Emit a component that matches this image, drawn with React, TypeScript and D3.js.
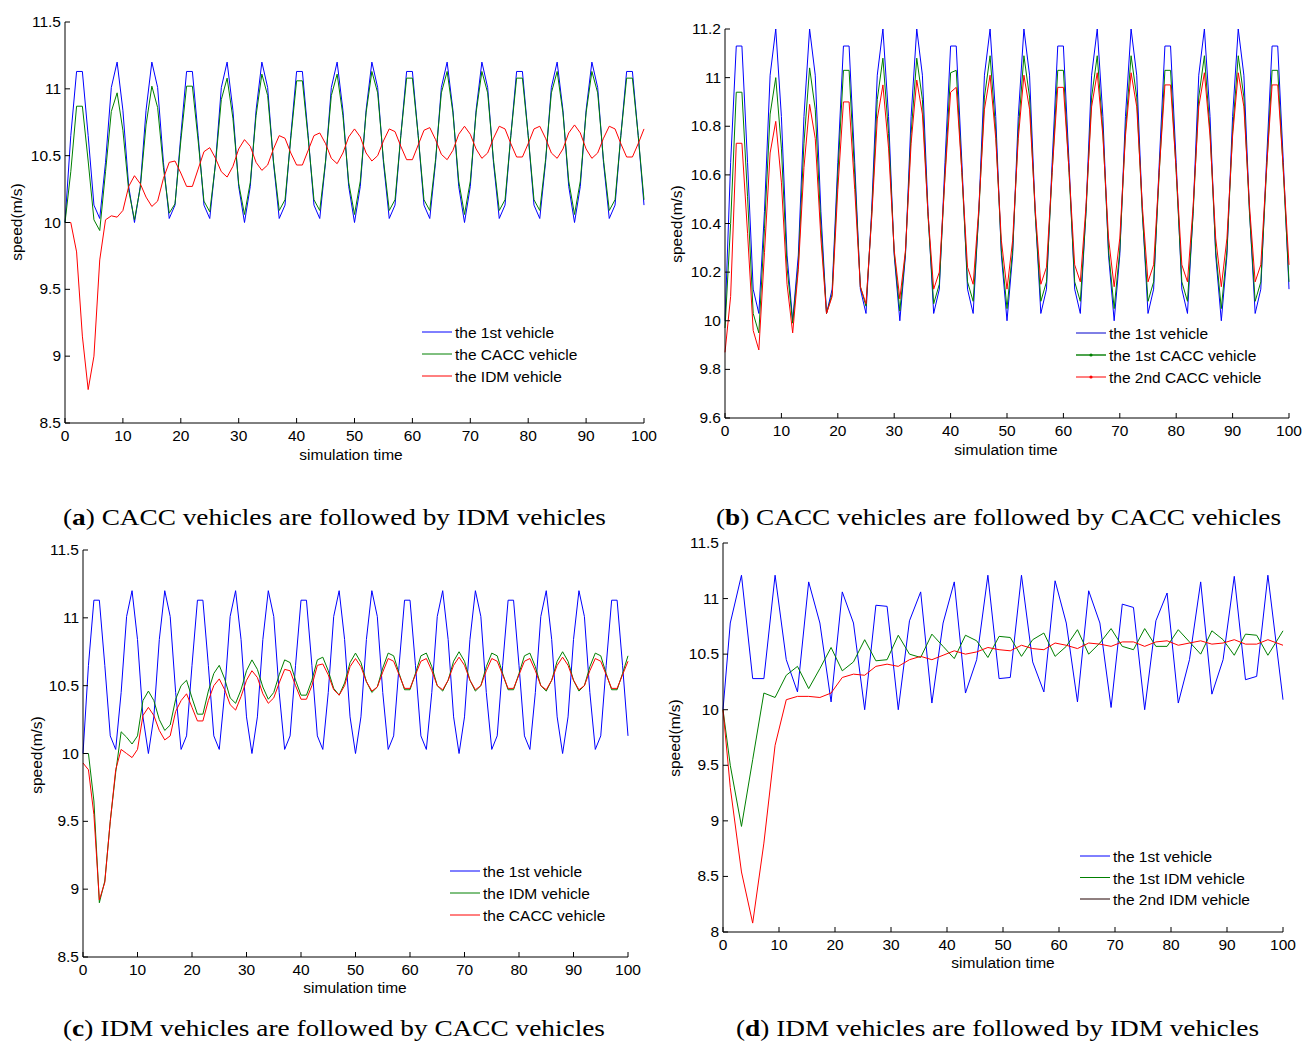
import React from "react";
import * as d3 from "d3";

// ---------- time axes ----------
const TIME_1 = d3.range(0, 101, 1);
// panel (d) samples: first at 0, last at 100, the rest every 2 s
const TIME_D = [0, ...d3.range(1.3, 98, 2), 100];

// ---------- series ----------
const leader = [
  10.0,
  10.65, 11.13, 11.13, 10.65, 10.13, 10.03, 10.45, 11.01, 11.2, 10.84, 10.27, 10.0, 10.27, 10.84, 11.2, 11.01, 10.45, 10.03, 10.13,
  10.65, 11.13, 11.13, 10.65, 10.13, 10.03, 10.45, 11.01, 11.2, 10.84, 10.27, 10.0, 10.27, 10.84, 11.2, 11.01, 10.45, 10.03, 10.13,
  10.65, 11.13, 11.13, 10.65, 10.13, 10.03, 10.45, 11.01, 11.2, 10.84, 10.27, 10.0, 10.27, 10.84, 11.2, 11.01, 10.45, 10.03, 10.13,
  10.65, 11.13, 11.13, 10.65, 10.13, 10.03, 10.45, 11.01, 11.2, 10.84, 10.27, 10.0, 10.27, 10.84, 11.2, 11.01, 10.45, 10.03, 10.13,
  10.65, 11.13, 11.13, 10.65, 10.13, 10.03, 10.45, 11.01, 11.2, 10.84, 10.27, 10.0, 10.27, 10.84, 11.2, 11.01, 10.45, 10.03, 10.13,
  10.65, 11.13, 11.13, 10.65, 10.13,
];

const caccA = [
  10.0, 10.38, 10.87, 10.87, 10.46, 10.02, 9.94, 10.38, 10.83, 10.97, 10.69,
  10.24, 10.02, 10.26, 10.73, 11.02, 10.86, 10.41, 10.07, 10.14, 10.61,
  11.02, 11.02, 10.61, 10.16, 10.08, 10.44, 10.92, 11.08, 10.78, 10.29,
  10.06, 10.3, 10.8, 11.11, 10.95, 10.46, 10.09, 10.17, 10.63, 11.06,
  11.06, 10.63, 10.17, 10.09, 10.46, 10.95, 11.11, 10.8, 10.3, 10.06,
  10.31, 10.82, 11.13, 10.97, 10.47, 10.09, 10.17, 10.65, 11.08, 11.08,
  10.65, 10.17, 10.09, 10.47, 10.97, 11.13, 10.82, 10.31, 10.06, 10.31,
  10.82, 11.13, 10.97, 10.47, 10.09, 10.17, 10.65, 11.08, 11.08, 10.65,
  10.17, 10.09, 10.47, 10.97, 11.13, 10.82, 10.31, 10.06, 10.31, 10.82,
  11.13, 10.97, 10.47, 10.09, 10.17, 10.65, 11.08, 11.08, 10.65, 10.17,
];

const idmA = [
  10.0, 10.0, 9.78, 9.15, 8.75, 9.0, 9.72, 10.02, 10.05, 10.04, 10.09,
  10.27, 10.35, 10.29, 10.19, 10.12, 10.16, 10.33, 10.45, 10.46, 10.37,
  10.27, 10.27, 10.4, 10.53, 10.56, 10.48, 10.38, 10.34, 10.42, 10.55,
  10.62, 10.57, 10.45, 10.39, 10.43, 10.55, 10.65, 10.63, 10.52, 10.43,
  10.43, 10.54, 10.65, 10.67, 10.59, 10.48, 10.44, 10.52, 10.64, 10.7,
  10.64, 10.52, 10.46, 10.5, 10.61, 10.7, 10.68, 10.57, 10.47, 10.47,
  10.58, 10.69, 10.71, 10.62, 10.51, 10.47, 10.54, 10.66, 10.72, 10.66,
  10.55, 10.48, 10.52, 10.63, 10.72, 10.7, 10.59, 10.49, 10.49, 10.59,
  10.7, 10.72, 10.63, 10.52, 10.48, 10.55, 10.67, 10.73, 10.67, 10.55,
  10.48, 10.52, 10.63, 10.72, 10.7, 10.59, 10.49, 10.49, 10.59, 10.7,
];

const cacc1B = [
  9.97, 10.4, 10.94, 10.94, 10.51, 10.03, 9.95, 10.38, 10.85, 11.0, 10.71,
  10.22, 9.99, 10.23, 10.73, 11.04, 10.87, 10.39, 10.03, 10.11, 10.6,
  11.03, 11.03, 10.6, 10.14, 10.06, 10.43, 10.91, 11.08, 10.77, 10.28,
  10.04, 10.28, 10.77, 11.08, 10.91, 10.43, 10.07, 10.15, 10.6, 11.02,
  11.03, 10.61, 10.16, 10.08, 10.44, 10.92, 11.09, 10.78, 10.29, 10.05,
  10.29, 10.78, 11.09, 10.92, 10.44, 10.08, 10.16, 10.61, 11.03, 11.03,
  10.61, 10.16, 10.08, 10.44, 10.92, 11.09, 10.78, 10.29, 10.05, 10.29,
  10.78, 11.09, 10.92, 10.44, 10.08, 10.16, 10.61, 11.03, 11.03, 10.61,
  10.16, 10.08, 10.44, 10.92, 11.09, 10.78, 10.29, 10.05, 10.29, 10.78,
  11.09, 10.92, 10.44, 10.08, 10.16, 10.61, 11.03, 11.03, 10.61, 10.16,
];

const cacc2B = [
  9.87, 10.1, 10.73, 10.73, 10.36, 9.96, 9.88, 10.28, 10.69, 10.82, 10.57,
  10.15, 9.95, 10.21, 10.63, 10.89, 10.75, 10.34, 10.03, 10.1, 10.54,
  10.9, 10.9, 10.54, 10.14, 10.07, 10.42, 10.83, 10.97, 10.71, 10.29,
  10.09, 10.29, 10.73, 10.99, 10.85, 10.44, 10.13, 10.2, 10.59, 10.94,
  10.96, 10.61, 10.22, 10.15, 10.46, 10.87, 11.01, 10.75, 10.33, 10.13,
  10.33, 10.75, 11.01, 10.87, 10.46, 10.15, 10.22, 10.61, 10.96, 10.96,
  10.62, 10.23, 10.16, 10.47, 10.88, 11.02, 10.76, 10.34, 10.14, 10.34,
  10.76, 11.02, 10.88, 10.47, 10.16, 10.23, 10.62, 10.97, 10.97, 10.62,
  10.23, 10.16, 10.47, 10.88, 11.02, 10.76, 10.34, 10.14, 10.34, 10.76,
  11.02, 10.88, 10.47, 10.16, 10.23, 10.62, 10.97, 10.97, 10.62, 10.23,
];

const idmC = [
  10.0, 10.0, 9.65, 8.9, 9.06, 9.5, 9.86, 10.16, 10.12, 10.07, 10.13,
  10.39, 10.46, 10.39, 10.25, 10.17, 10.21, 10.4, 10.5, 10.54, 10.41,
  10.29, 10.29, 10.46, 10.59, 10.65, 10.55, 10.41, 10.37, 10.47, 10.61,
  10.69, 10.62, 10.49, 10.4, 10.45, 10.58, 10.69, 10.67, 10.54, 10.43,
  10.43, 10.54, 10.69, 10.71, 10.61, 10.48, 10.43, 10.52, 10.67, 10.74,
  10.67, 10.53, 10.45, 10.49, 10.63, 10.74, 10.72, 10.59, 10.47, 10.47,
  10.59, 10.72, 10.74, 10.64, 10.5, 10.46, 10.54, 10.68, 10.75, 10.68,
  10.54, 10.46, 10.5, 10.64, 10.74, 10.72, 10.59, 10.47, 10.47, 10.59,
  10.72, 10.74, 10.64, 10.5, 10.46, 10.54, 10.68, 10.75, 10.68, 10.54,
  10.46, 10.5, 10.64, 10.74, 10.72, 10.59, 10.47, 10.47, 10.59, 10.72,
];

const caccC = [
  9.93, 9.88, 9.55, 8.92, 9.05, 9.5, 9.88, 10.03, 10.0, 9.97, 10.03,
  10.28, 10.34, 10.28, 10.17, 10.1, 10.13, 10.31, 10.39, 10.44, 10.34,
  10.24, 10.24, 10.39, 10.5, 10.55, 10.47, 10.36, 10.32, 10.42, 10.54,
  10.61, 10.56, 10.44, 10.37, 10.41, 10.52, 10.62, 10.61, 10.5, 10.4,
  10.4, 10.5, 10.65, 10.66, 10.58, 10.47, 10.43, 10.5, 10.64, 10.7,
  10.64, 10.53, 10.46, 10.49, 10.6, 10.7, 10.68, 10.58, 10.48, 10.48,
  10.58, 10.68, 10.7, 10.61, 10.5, 10.47, 10.54, 10.65, 10.71, 10.65,
  10.54, 10.47, 10.5, 10.61, 10.7, 10.68, 10.58, 10.48, 10.48, 10.58,
  10.68, 10.7, 10.61, 10.5, 10.47, 10.54, 10.65, 10.71, 10.65, 10.54,
  10.47, 10.5, 10.61, 10.7, 10.68, 10.58, 10.48, 10.48, 10.58, 10.68,
];

const leaderD = [
  10.0, 10.78, 11.21, 10.28, 10.28, 11.21, 10.45, 10.16, 11.15, 10.78, 10.07,
  11.06, 10.78, 10.0, 10.94, 10.93, 10.0, 10.8, 11.06, 10.06, 10.78,
  11.15, 10.15, 10.45, 11.21, 10.28, 10.29, 11.21, 10.43, 10.16, 11.16,
  10.78, 10.07, 11.07, 10.78, 10.02, 10.95, 10.92, 10.0, 10.8, 11.05,
  10.06, 10.45, 11.15, 10.14, 10.45, 11.2, 10.27, 10.3, 11.21, 10.09,
];

const idm1D = [
  10.0, 9.5, 8.95, 9.55, 10.15, 10.11, 10.31, 10.39, 10.19, 10.37, 10.56,
  10.35, 10.43, 10.63, 10.44, 10.45, 10.67, 10.5, 10.47, 10.68, 10.57,
  10.46, 10.67, 10.62, 10.47, 10.66, 10.65, 10.48, 10.63, 10.69, 10.48,
  10.57, 10.72, 10.5, 10.6, 10.73, 10.57, 10.54, 10.73, 10.57, 10.57,
  10.72, 10.61, 10.5, 10.71, 10.63, 10.49, 10.68, 10.67, 10.49, 10.71,
];

const idm2D = [
  10.0, 9.3, 8.54, 8.08, 8.8, 9.68, 10.09, 10.12, 10.12, 10.11, 10.15,
  10.29, 10.32, 10.31, 10.39, 10.41, 10.39, 10.45, 10.48, 10.45, 10.49,
  10.53, 10.5, 10.52, 10.56, 10.54, 10.53, 10.58, 10.55, 10.54, 10.6,
  10.58, 10.55, 10.6, 10.59, 10.57, 10.61, 10.61, 10.57, 10.61, 10.62,
  10.58, 10.6, 10.62, 10.59, 10.6, 10.63, 10.59, 10.59, 10.63, 10.58,
];

// ---------- tick values and labels ----------
const X_TICKS = [0, 10, 20, 30, 40, 50, 60, 70, 80, 90, 100];
const Y_TICKS_A = [8.5, 9, 9.5, 10, 10.5, 11, 11.5];
const Y_TICKS_B = [9.6, 9.8, 10, 10.2, 10.4, 10.6, 10.8, 11, 11.2];
const Y_TICKS_D = [8, 8.5, 9, 9.5, 10, 10.5, 11, 11.5];

const LEGEND_A = ["the 1st vehicle", "the CACC vehicle", "the IDM vehicle"];
const LEGEND_B = ["the 1st vehicle", "the 1st CACC vehicle", "the 2nd CACC vehicle"];
const LEGEND_C = ["the 1st vehicle", "the IDM vehicle", "the CACC vehicle"];
const LEGEND_D = ["the 1st vehicle", "the 1st IDM vehicle", "the 2nd IDM vehicle"];

const CAPTIONS = [
  { tag: "a", text: " CACC vehicles are followed by IDM vehicles" },
  { tag: "b", text: " CACC vehicles are followed by CACC vehicles" },
  { tag: "c", text: " IDM vehicles are followed by CACC vehicles" },
  { tag: "d", text: " IDM vehicles are followed by IDM vehicles" },
];

const BLUE = "#0000ff";
const GREEN = "#008000";
const RED = "#ff0000";
const SANS = "'Liberation Sans', Arial, sans-serif";
const SERIF = "'Liberation Serif', 'Times New Roman', serif";

type Series = { data: number[]; time: number[]; color: string };
type PanelCfg = {
  left: number; right: number; top: number; bottom: number;
  ymin: number; ymax: number; yticks: number[];
  series: Series[];
  legend: { x: number; y: number; gap: number; labels: string[]; dots: boolean[]; colors: string[]; widths: number[] };
  ylabel: { x: number; y: number };
  xlabel: { x: number; y: number };
  caption: { x: number; y: number; w: number; idx: number };
};

const panels: PanelCfg[] = [
  {
    left: 65, right: 644, top: 22, bottom: 423, ymin: 8.5, ymax: 11.5, yticks: Y_TICKS_A,
    series: [
      { data: leader, time: TIME_1, color: BLUE },
      { data: caccA, time: TIME_1, color: GREEN },
      { data: idmA, time: TIME_1, color: RED },
    ],
    legend: { x: 422, y: 332, gap: 22, labels: LEGEND_A, dots: [false, false, false], colors: [BLUE, GREEN, RED], widths: [1, 1, 1] },
    ylabel: { x: 22, y: 222 },
    xlabel: { x: 351, y: 460 },
    caption: { x: 63, y: 525, w: 543, idx: 0 },
  },
  {
    left: 725, right: 1289, top: 29, bottom: 418, ymin: 9.6, ymax: 11.2, yticks: Y_TICKS_B,
    series: [
      { data: leader, time: TIME_1, color: BLUE },
      { data: cacc1B, time: TIME_1, color: GREEN },
      { data: cacc2B, time: TIME_1, color: RED },
    ],
    legend: { x: 1076, y: 333, gap: 22, labels: LEGEND_B, dots: [false, true, true], colors: ["#0000cc", "#3a9a3a", RED], widths: [1, 1.8, 1] },
    ylabel: { x: 682, y: 224 },
    xlabel: { x: 1006, y: 455 },
    caption: { x: 716, y: 525, w: 565, idx: 1 },
  },
  {
    left: 83, right: 628, top: 550, bottom: 957, ymin: 8.5, ymax: 11.5, yticks: Y_TICKS_A,
    series: [
      { data: leader, time: TIME_1, color: BLUE },
      { data: idmC, time: TIME_1, color: GREEN },
      { data: caccC, time: TIME_1, color: RED },
    ],
    legend: { x: 450, y: 871, gap: 22, labels: LEGEND_C, dots: [false, false, false], colors: [BLUE, GREEN, RED], widths: [1, 1, 1] },
    ylabel: { x: 42, y: 755 },
    xlabel: { x: 355, y: 993 },
    caption: { x: 63, y: 1036, w: 542, idx: 2 },
  },
  {
    left: 723, right: 1283, top: 543, bottom: 932, ymin: 8, ymax: 11.5, yticks: Y_TICKS_D,
    series: [
      { data: leaderD, time: TIME_D, color: BLUE },
      { data: idm1D, time: TIME_D, color: GREEN },
      { data: idm2D, time: TIME_D, color: RED },
    ],
    legend: { x: 1080, y: 856, gap: 21.5, labels: LEGEND_D, dots: [false, false, false], colors: [BLUE, GREEN, "#200000"], widths: [1, 1, 1] },
    ylabel: { x: 680, y: 738 },
    xlabel: { x: 1003, y: 968 },
    caption: { x: 736, y: 1036, w: 523, idx: 3 },
  },
];

function Panel({ cfg }: { cfg: PanelCfg }) {
  const x = d3.scaleLinear().domain([0, 100]).range([cfg.left, cfg.right]);
  const y = d3.scaleLinear().domain([cfg.ymin, cfg.ymax]).range([cfg.bottom, cfg.top]);
  const cap = CAPTIONS[cfg.caption.idx];
  return (
    <g>
      {cfg.series.map((s, k) => {
        const line = d3
          .line<number>()
          .x((_, i) => x(s.time[i]))
          .y((d) => y(d));
        return <path key={k} d={line(s.data) || ""} fill="none" stroke={s.color} strokeWidth={1} strokeLinejoin="round" />;
      })}
      {/* axes */}
      <line x1={cfg.left} x2={cfg.left} y1={cfg.top} y2={cfg.bottom} stroke="#000" strokeWidth={1} />
      <line x1={cfg.left} x2={cfg.right} y1={cfg.bottom} y2={cfg.bottom} stroke="#000" strokeWidth={1} />
      {cfg.yticks.map((t) => (
        <g key={"y" + t}>
          <line x1={cfg.left} x2={cfg.left + 5} y1={y(t)} y2={y(t)} stroke="#000" strokeWidth={1} />
          <text x={cfg.left - 4} y={y(t) + 5} textAnchor="end" fontFamily={SANS} fontSize={15.5} fill="#000">
            {String(t)}
          </text>
        </g>
      ))}
      {X_TICKS.map((t) => (
        <g key={"x" + t}>
          <line x1={x(t)} x2={x(t)} y1={cfg.bottom} y2={cfg.bottom - 5} stroke="#000" strokeWidth={1} />
          <text x={x(t)} y={cfg.bottom + 18} textAnchor="middle" fontFamily={SANS} fontSize={15.5} fill="#000">
            {String(t)}
          </text>
        </g>
      ))}
      <text x={cfg.xlabel.x} y={cfg.xlabel.y} textAnchor="middle" fontFamily={SANS} fontSize={15.5} fill="#000">
        simulation time
      </text>
      <text
        transform={`translate(${cfg.ylabel.x},${cfg.ylabel.y}) rotate(-90)`}
        textAnchor="middle"
        fontFamily={SANS}
        fontSize={15.5}
        fill="#000"
      >
        speed(m/s)
      </text>
      {/* legend */}
      {cfg.legend.labels.map((lab, i) => {
        const ly = cfg.legend.y + i * cfg.legend.gap;
        return (
          <g key={"l" + i}>
            <line
              x1={cfg.legend.x}
              x2={cfg.legend.x + 30}
              y1={ly}
              y2={ly}
              stroke={cfg.legend.colors[i]}
              strokeWidth={cfg.legend.widths[i]}
            />
            {cfg.legend.dots[i] && <circle cx={cfg.legend.x + 15} cy={ly} r={1.6} fill={i === 1 ? GREEN : RED} />}
            <text x={cfg.legend.x + 33} y={ly + 6} fontFamily={SANS} fontSize={15.5} fill="#000">
              {lab}
            </text>
          </g>
        );
      })}
      {/* caption */}
      <text
        x={cfg.caption.x}
        y={cfg.caption.y}
        fontFamily={SERIF}
        fontSize={24}
        fill="#000"
        textLength={cfg.caption.w}
        lengthAdjust="spacingAndGlyphs"
      >
        (<tspan fontWeight="bold">{cap.tag}</tspan>){cap.text}
      </text>
    </g>
  );
}

export default function App() {
  return (
    <svg
      width={1313}
      height={1041}
      style={{ position: "absolute", left: 0, top: 0, background: "#fff" }}
      xmlns="http://www.w3.org/2000/svg"
    >
      <rect x={0} y={0} width={1313} height={1041} fill="#fff" />
      {panels.map((p, i) => (
        <Panel key={i} cfg={p} />
      ))}
    </svg>
  );
}
